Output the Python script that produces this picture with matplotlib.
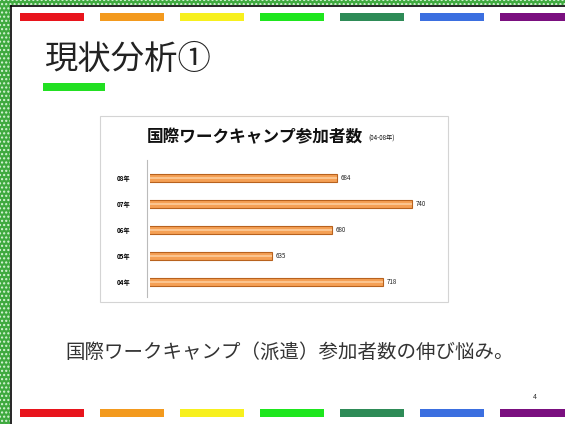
import matplotlib.pyplot as plt
from matplotlib.patches import Rectangle

plt.rcParams['font.family'] = ['Noto Sans CJK JP', 'DejaVu Sans']

# --- data ---
years = ['04年', '05年', '06年', '07年', '08年']
participants = [718, 635, 680, 740, 684]
stripe_colors = ['#e8141c', '#f39a1e', '#f7f01e', '#1ee61e',
                 '#2e8b57', '#3b6fe0', '#7a0f7f']

W, H = 565, 424
fig = plt.figure(figsize=(W / 100, H / 100), dpi=100)

# background axes in pixel units for the slide decorations
bg = fig.add_axes([0, 0, 1, 1])
bg.set_xlim(0, W)
bg.set_ylim(H, 0)
bg.axis('off')

# green checkered border (left + top)
bg.add_patch(Rectangle((0, 0), 10, H, fc='#3faa3f', ec='#d8f5d8', hatch='....', lw=0))
bg.add_patch(Rectangle((0, 0), W, 5, fc='#3faa3f', ec='#d8f5d8', hatch='....', lw=0))
bg.plot([10.5, 10.5], [5.5, H], color='black', lw=1.2)
bg.plot([10.5, W], [5.5, 5.5], color='black', lw=1.2)

# rainbow stripes top and bottom
for i, c in enumerate(stripe_colors):
    x0 = 20 + 80 * i
    w = 64 if i < len(stripe_colors) - 1 else W - x0
    bg.add_patch(Rectangle((x0, 13), w, 8, color=c, lw=0))
    bg.add_patch(Rectangle((x0, 409), w, 8, color=c, lw=0))

# slide title
bg.text(45, 60, '現状分析①', fontsize=24, va='center', color='#222222')
bg.add_patch(Rectangle((43, 83), 62, 8, color='#22e022', lw=0))

# chart frame
bg.add_patch(Rectangle((100, 116), 348, 186, fc='white', ec='#d4d4d4', lw=0.8))
bg.text(147, 137, '国際ワークキャンプ参加者数', fontsize=12, weight='bold',
        va='center', color='#111111')
bg.text(368, 139, '(04-08年)', fontsize=4.5, va='center', color='#111111')
# 3D wall edge
bg.plot([147, 147], [160, 297], color='#bbbbbb', lw=0.8)

# subtitle and page number
bg.text(65, 352, '国際ワークキャンプ（派遣）参加者数の伸び悩み。',
        fontsize=14, va='center', color='#333333')
bg.text(535, 397, '4', fontsize=5, ha='center', va='center', color='#333333')

# --- bar chart ---
ax = fig.add_axes([150 / W, 1 - 295 / H, 290 / W, 130 / H])
ax.patch.set_alpha(0)
ypos = list(range(len(years)))
ax.barh(ypos, participants, height=0.32, color='#f5a055',
        edgecolor='#b8621e', linewidth=0.8)
ax.barh(ypos, participants, height=0.1, color='#fbc48e', linewidth=0)
for y, v in zip(ypos, participants):
    ax.text(v + 3, y, str(v), fontsize=4.5, va='center', color='#222222')
ax.set_xlim(544, 761)
ax.set_ylim(-0.5, len(years) - 0.5)
ax.set_yticks(ypos, years, fontsize=4.5, fontweight='bold')
ax.tick_params(axis='y', length=0, pad=14)
ax.set_xticks([])
for s in ax.spines.values():
    s.set_visible(False)

fig.savefig('out.png', dpi=100)
